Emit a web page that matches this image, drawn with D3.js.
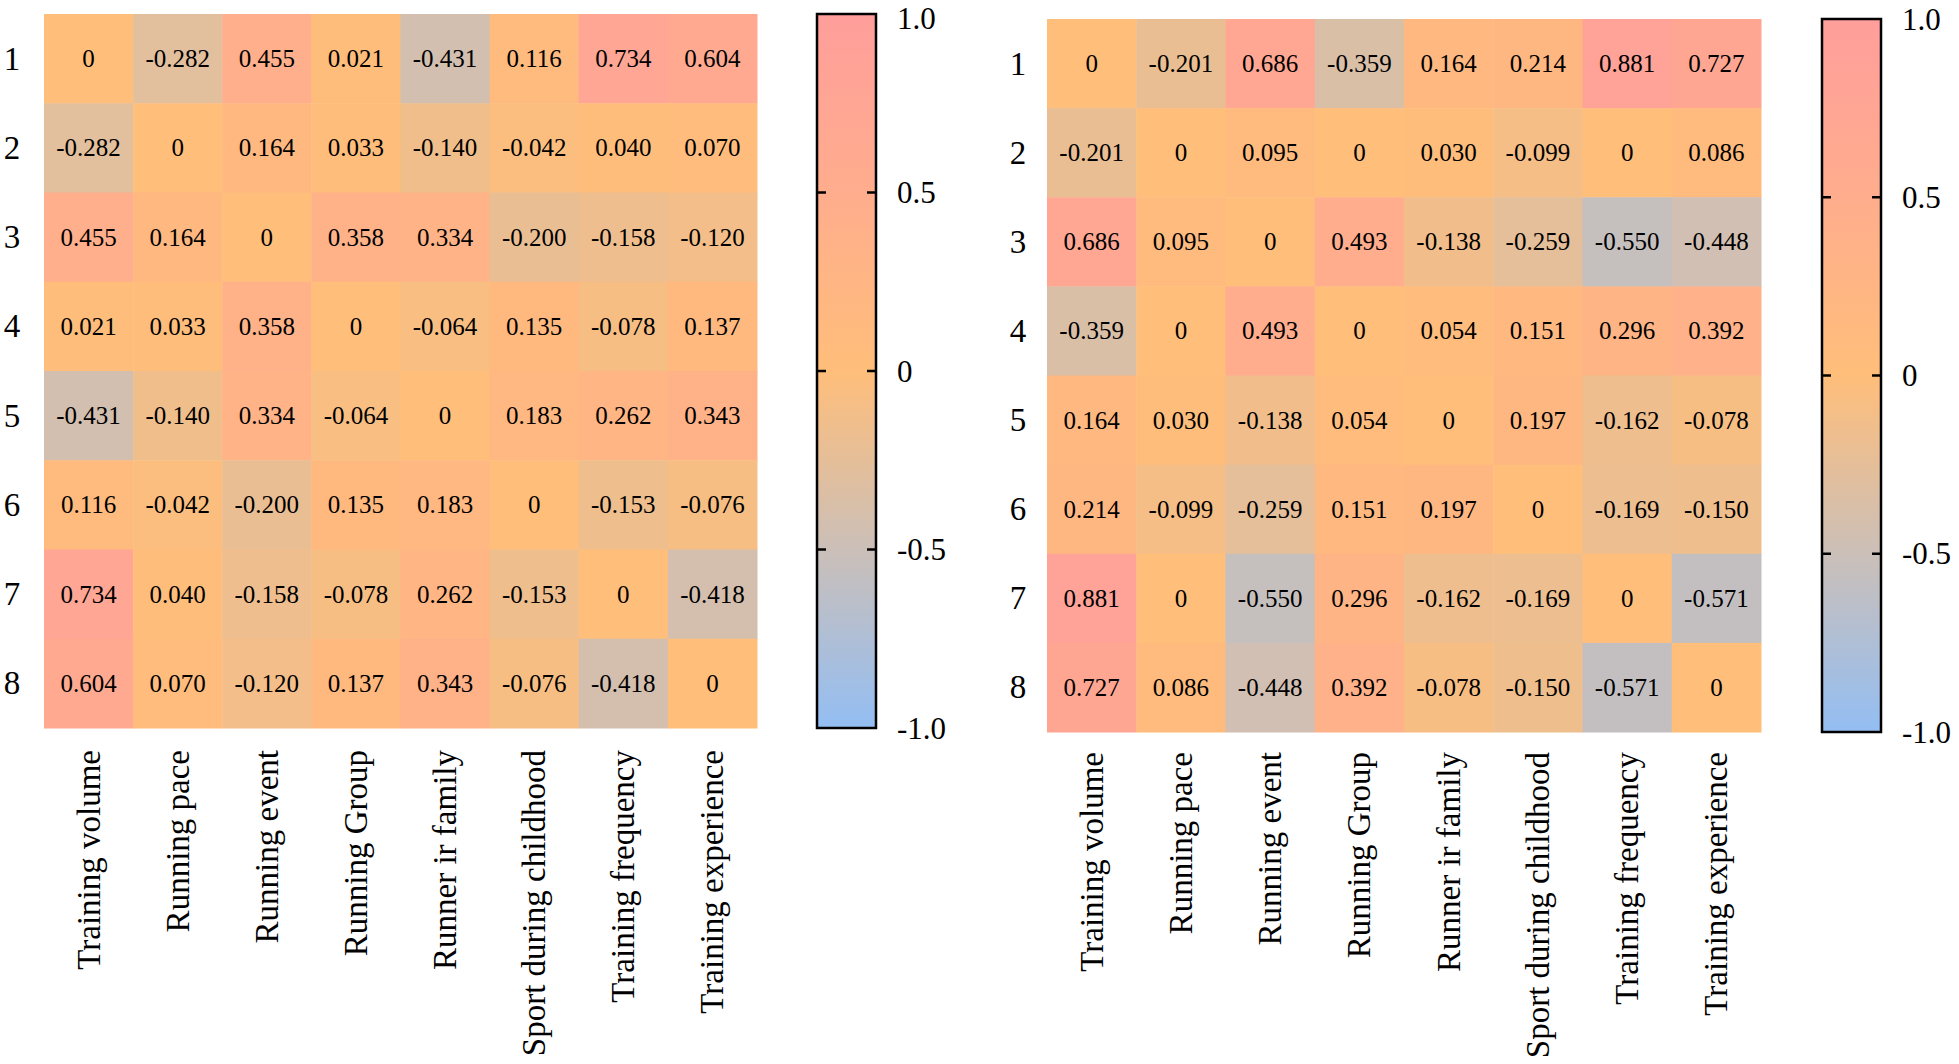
<!DOCTYPE html>
<html>
<head>
<meta charset="utf-8">
<script src="https://cdn.jsdelivr.net/npm/d3@7"></script>
<style>
  html, body { margin: 0; padding: 0; background: #ffffff; }
  svg { display: block; }
  text { font-family: "Liberation Serif", "Times New Roman", serif; fill: #000; }
</style>
</head>
<body>
<svg id="chart" width="1959" height="1064"></svg>
<script>
// ---------- DATA ----------
const variables = ["Training volume", "Running pace", "Running event", "Running Group",
  "Runner ir family", "Sport during childhood", "Training frequency", "Training experience"];
const rowLabels = ["1", "2", "3", "4", "5", "6", "7", "8"];

const leftMatrix = [
  [0, -0.282, 0.455, 0.021, -0.431, 0.116, 0.734, 0.604],
  [-0.282, 0, 0.164, 0.033, -0.140, -0.042, 0.040, 0.070],
  [0.455, 0.164, 0, 0.358, 0.334, -0.200, -0.158, -0.120],
  [0.021, 0.033, 0.358, 0, -0.064, 0.135, -0.078, 0.137],
  [-0.431, -0.140, 0.334, -0.064, 0, 0.183, 0.262, 0.343],
  [0.116, -0.042, -0.200, 0.135, 0.183, 0, -0.153, -0.076],
  [0.734, 0.040, -0.158, -0.078, 0.262, -0.153, 0, -0.418],
  [0.604, 0.070, -0.120, 0.137, 0.343, -0.076, -0.418, 0]
];

const rightMatrix = [
  [0, -0.201, 0.686, -0.359, 0.164, 0.214, 0.881, 0.727],
  [-0.201, 0, 0.095, 0, 0.030, -0.099, 0, 0.086],
  [0.686, 0.095, 0, 0.493, -0.138, -0.259, -0.550, -0.448],
  [-0.359, 0, 0.493, 0, 0.054, 0.151, 0.296, 0.392],
  [0.164, 0.030, -0.138, 0.054, 0, 0.197, -0.162, -0.078],
  [0.214, -0.099, -0.259, 0.151, 0.197, 0, -0.169, -0.150],
  [0.881, 0, -0.550, 0.296, -0.162, -0.169, 0, -0.571],
  [0.727, 0.086, -0.448, 0.392, -0.078, -0.150, -0.571, 0]
];

const colorStops = [-1, -0.5, 0, 0.5, 1];
const colorValues = ["#93bef3", "#cbbfb8", "#ffbe7a", "#ffad8d", "#ff9e9b"];
const colorTicks = [1, 0.5, 0, -0.5, -1];
const colorTickLabels = ["1.0", "0.5", "0", "-0.5", "-1.0"];

// ---------- DRAW ----------
const svg = d3.select("#chart");
const color = d3.scaleLinear().domain(colorStops).range(colorValues).interpolate(d3.interpolateRgb);
const fmt = v => (v === 0 ? "0" : v.toFixed(3));

const panels = [
  { matrix: leftMatrix, x0: 44, y0: 14, w: 713, h: 714, rowLabelX: 12, cbX: 817, cbW: 59, labelY: 750 },
  { matrix: rightMatrix, x0: 1047, y0: 19, w: 714, h: 713, rowLabelX: 1018, cbX: 1822, cbW: 59, labelY: 752 }
];

panels.forEach((p, pi) => {
  const g = svg.append("g");
  const x = d3.scaleBand().domain(variables).range([p.x0, p.x0 + p.w]);
  const y = d3.scaleBand().domain(rowLabels).range([p.y0, p.y0 + p.h]);

  const cells = [];
  p.matrix.forEach((row, i) => row.forEach((v, j) => cells.push({ r: rowLabels[i], c: variables[j], v })));

  g.selectAll("rect.cell").data(cells).join("rect")
    .attr("class", "cell")
    .attr("x", d => x(d.c))
    .attr("y", d => y(d.r))
    .attr("width", x.bandwidth() + 0.5)
    .attr("height", y.bandwidth() + 0.5)
    .attr("fill", d => color(d.v));

  g.selectAll("text.val").data(cells).join("text")
    .attr("class", "val")
    .attr("x", d => x(d.c) + x.bandwidth() / 2)
    .attr("y", d => y(d.r) + y.bandwidth() / 2)
    .attr("text-anchor", "middle")
    .attr("dominant-baseline", "central")
    .style("font-size", "25px")
    .text(d => fmt(d.v));

  // row labels
  g.selectAll("text.rowlab").data(rowLabels).join("text")
    .attr("class", "rowlab")
    .attr("x", p.rowLabelX)
    .attr("y", d => y(d) + y.bandwidth() / 2)
    .attr("text-anchor", "middle")
    .attr("dominant-baseline", "central")
    .style("font-size", "33px")
    .text(d => d);

  // column labels (rotated)
  g.selectAll("text.collab").data(variables).join("text")
    .attr("class", "collab")
    .attr("transform", d => `translate(${x(d) + x.bandwidth() / 2},${p.labelY}) rotate(-90)`)
    .attr("text-anchor", "end")
    .attr("dominant-baseline", "central")
    .style("font-size", "33px")
    .text(d => d);

  // colorbar
  const cbY = d3.scaleLinear().domain([1, -1]).range([p.y0, p.y0 + p.h]);
  const gradId = "grad" + pi;
  const grad = svg.append("defs").append("linearGradient")
    .attr("id", gradId).attr("x1", "0").attr("y1", "1").attr("x2", "0").attr("y2", "0");
  colorStops.forEach((s, k) => {
    grad.append("stop").attr("offset", (s + 1) / 2).attr("stop-color", colorValues[k]);
  });
  g.append("rect")
    .attr("x", p.cbX).attr("y", p.y0)
    .attr("width", p.cbW).attr("height", p.h)
    .attr("fill", `url(#${gradId})`)
    .attr("stroke", "#000").attr("stroke-width", 2.5);

  const inner = colorTicks.filter(t => Math.abs(t) < 1);
  g.selectAll("line.tl").data(inner).join("line")
    .attr("x1", p.cbX).attr("x2", p.cbX + 9)
    .attr("y1", d => cbY(d)).attr("y2", d => cbY(d))
    .attr("stroke", "#000").attr("stroke-width", 2.5);
  g.selectAll("line.tr").data(inner).join("line")
    .attr("x1", p.cbX + p.cbW - 9).attr("x2", p.cbX + p.cbW)
    .attr("y1", d => cbY(d)).attr("y2", d => cbY(d))
    .attr("stroke", "#000").attr("stroke-width", 2.5);

  g.selectAll("text.cbl").data(colorTicks).join("text")
    .attr("class", "cbl")
    .attr("x", p.cbX + p.cbW + 21)
    .attr("y", d => Math.max(cbY(d), 18))
    .attr("dominant-baseline", "central")
    .style("font-size", "31px")
    .text((d, k) => colorTickLabels[k]);
});
</script>
</body>
</html>
